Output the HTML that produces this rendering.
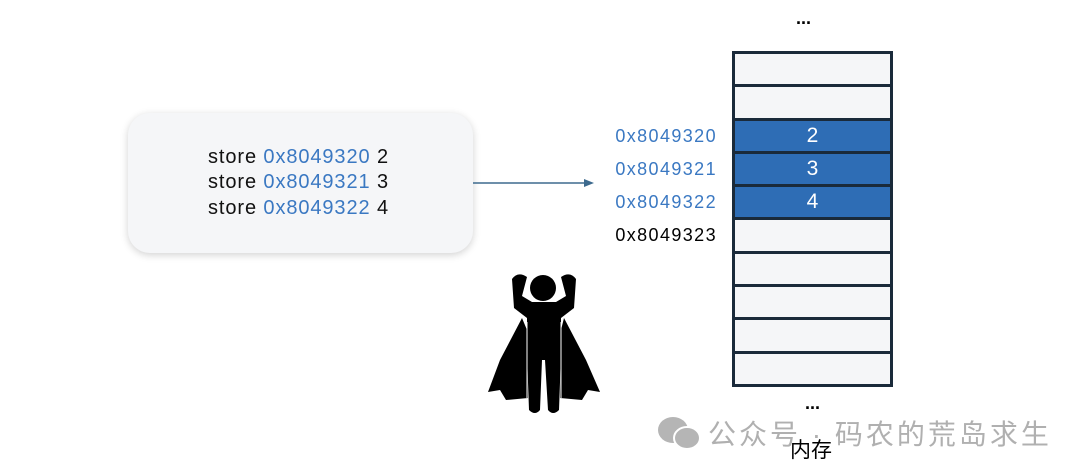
<!DOCTYPE html>
<html><head><meta charset="utf-8"><style>
body{margin:0;width:1080px;height:474px;background:#fff;position:relative;overflow:hidden;font-family:"Liberation Sans","Noto Sans CJK SC",sans-serif}
.box{position:absolute;left:128px;top:113px;width:345px;height:140px;background:#f5f6f8;border-radius:22px;box-shadow:0 2px 8px rgba(0,0,0,0.18)}
.box .t{position:absolute;left:80px;font-size:20px;letter-spacing:0.9px;color:#111;white-space:nowrap}
.b{color:#3a78c2}
.mem{position:absolute;left:732px;top:51px;width:161px}
.row{box-sizing:border-box;height:33.3px;border:3px solid #1a2a3a;border-top:none;background:#f5f6f8;color:#fff;text-align:center;font-size:21px;line-height:30px}
.row:first-child{border-top:3px solid #1a2a3a;height:36.3px}
.row.f{background:#2e6db5}
.addr{position:absolute;right:363px;font-size:18px;letter-spacing:1.4px;color:#3a78c2}
</style></head><body>
<div class="box">
<div class="t" style="top:33px">store <span class="b">0x8049320</span> 2</div>
<div class="t" style="top:58px">store <span class="b">0x8049321</span> 3</div>
<div class="t" style="top:84px">store <span class="b">0x8049322</span> 4</div>
</div>
<svg style="position:absolute;left:0;top:0" width="1080" height="474">
<line x1="473" y1="183" x2="586" y2="183" stroke="#3d6a8e" stroke-width="1.5"/>
<polygon points="594,183 584,179 584,187" fill="#3d6a8e"/>
<g fill="#000">
<circle cx="543" cy="288" r="13"/>
<path d="M522,318 L500,360 L488,392 L500,390 L506,400 L528,398 L527,330Z"/>
<path d="M564,318 L586,360 L600,392 L588,390 L582,400 L560,398 L561,330Z"/>
<path d="M512,279 Q518,271 527,277 L522,296 L532,302 L556,302 L566,296 L561,277 Q570,271 576,279 L574,308 L561,318 L561,355 L559,410 Q553,416 548,410 L545,360 L542,360 L540,410 Q535,416 529,410 L527,355 L527,318 L514,308Z"/>
</g>
<g stroke="#fff" stroke-width="1" fill="none"><line x1="527" y1="322" x2="527" y2="398"/><line x1="561" y1="322" x2="561" y2="398"/></g>
</svg>
<div style="position:absolute;left:796px;top:8px;font-size:18px;font-weight:bold">...</div>
<div class="mem">
<div class="row"></div><div class="row"></div>
<div class="row f">2</div><div class="row f">3</div><div class="row f">4</div>
<div class="row"></div><div class="row"></div><div class="row"></div><div class="row"></div><div class="row"></div>
</div>
<div class="addr" style="top:126px">0x8049320</div>
<div class="addr" style="top:159px">0x8049321</div>
<div class="addr" style="top:192px">0x8049322</div>
<div class="addr" style="top:225px;color:#000">0x8049323</div>
<div style="position:absolute;left:805px;top:393px;font-size:18px;font-weight:bold">...</div>
<svg style="position:absolute;left:657px;top:415px" width="46" height="36">
<ellipse cx="16" cy="15" rx="15" ry="13" fill="#b5b5b5"/>
<ellipse cx="30" cy="23" rx="13" ry="11" fill="#b5b5b5" stroke="#fff" stroke-width="2"/>
</svg>
<div style="position:absolute;left:708px;top:413px;font-size:28px;letter-spacing:3px;color:#b0b0b0;white-space:nowrap">公众号 · 码农的荒岛求生</div>
<div style="position:absolute;left:790px;top:434px;font-size:21px;color:#000">内存</div>
</body></html>
